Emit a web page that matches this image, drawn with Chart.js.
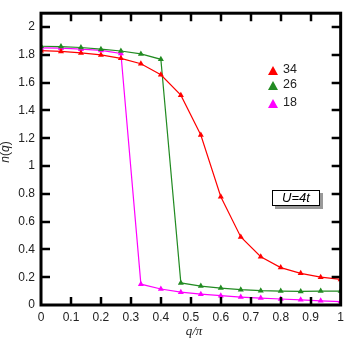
<!DOCTYPE html>
<html>
<head>
<meta charset="utf-8">
<script src="https://cdn.jsdelivr.net/npm/chart.js@4.4.1/dist/chart.umd.min.js"></script>
<style>
  html, body { margin: 0; padding: 0; background: #fff; }
  #wrap { width: 349px; height: 341px; }
</style>
</head>
<body>
<div id="wrap"><canvas id="chart"></canvas></div>
<script>
// q/pi grid: k/15, k = 0..15
const qValues = [0, 1/15, 2/15, 3/15, 4/15, 5/15, 6/15, 7/15, 8/15, 9/15, 10/15, 11/15, 12/15, 13/15, 14/15, 1];

const seriesLabels = ['34', '26', '18'];
const seriesColors = ['#ff0000', '#228b22', '#ff00ff'];

const n34 = [1.83, 1.825, 1.814, 1.80, 1.775, 1.736, 1.657, 1.51, 1.223, 0.779, 0.49, 0.347, 0.269, 0.228, 0.20, 0.184];
const n26 = [1.862, 1.86, 1.853, 1.841, 1.828, 1.807, 1.768, 0.159, 0.136, 0.122, 0.11, 0.103, 0.10, 0.098, 0.10, 0.10];
const n18 = [1.85, 1.848, 1.841, 1.832, 1.81, 0.15, 0.115, 0.092, 0.078, 0.067, 0.057, 0.05, 0.043, 0.037, 0.03, 0.025];

const xTicks = [0, 0.1, 0.2, 0.3, 0.4, 0.5, 0.6, 0.7, 0.8, 0.9, 1];
const yTicks = [0, 0.2, 0.4, 0.6, 0.8, 1, 1.2, 1.4, 1.6, 1.8, 2];

const FONT = 'Liberation Sans, Arial, sans-serif';

function toPoints(ys) {
  return ys.map((y, i) => ({ x: qValues[i], y }));
}

// frame, inward ticks, legend, axis titles, U=4t box
const decorations = {
  id: 'decorations',
  afterDraw(chart) {
    const { ctx, chartArea: a, scales: { x, y } } = chart;
    ctx.save();

    // inward ticks
    ctx.strokeStyle = '#000';
    ctx.lineWidth = 2.5;
    ctx.beginPath();
    xTicks.slice(1, -1).forEach(v => {
      const px = Math.round(x.getPixelForValue(v));
      ctx.moveTo(px, a.bottom); ctx.lineTo(px, a.bottom - 8);
      ctx.moveTo(px, a.top); ctx.lineTo(px, a.top + 8);
    });
    yTicks.slice(1).forEach(v => {
      const py = Math.round(y.getPixelForValue(v));
      ctx.moveTo(a.left, py); ctx.lineTo(a.left + 9, py);
      ctx.moveTo(a.right, py); ctx.lineTo(a.right - 9, py);
    });
    ctx.stroke();

    // frame
    ctx.lineWidth = 3;
    ctx.strokeRect(a.left, a.top, a.right - a.left, a.bottom - a.top);

    // legend
    const legendY = [70, 85, 103];
    chart.data.datasets.forEach((ds, i) => {
      const cx = 273, cy = legendY[i] + 1;
      ctx.fillStyle = ds.borderColor;
      ctx.beginPath();
      ctx.moveTo(cx, cy - 5);
      ctx.lineTo(cx + 5, cy + 4);
      ctx.lineTo(cx - 5, cy + 4);
      ctx.closePath();
      ctx.fill();
      ctx.fillStyle = '#222';
      ctx.font = '12.5px ' + FONT;
      ctx.textBaseline = 'middle';
      ctx.textAlign = 'left';
      ctx.fillText(ds.label, 283, legendY[i]);
    });

    // U=4t box
    ctx.fillStyle = '#999';
    ctx.fillRect(275, 193, 48, 16);
    ctx.fillStyle = '#fff';
    ctx.fillRect(272, 190, 48, 16);
    ctx.strokeStyle = '#000';
    ctx.lineWidth = 1;
    ctx.strokeRect(272.5, 190.5, 47, 15);
    ctx.fillStyle = '#000';
    ctx.textBaseline = 'middle';
    ctx.textAlign = 'left';
    const parts = [['italic', 'U'], ['italic', '=4'], ['italic', 't']];
    let w = 0;
    parts.forEach(([style, s]) => { ctx.font = style + ' 13px ' + FONT; w += ctx.measureText(s).width; });
    let tx = 296 - w / 2;
    parts.forEach(([style, s]) => {
      ctx.font = style + ' 13px ' + FONT;
      ctx.fillText(s, tx, 198.5);
      tx += ctx.measureText(s).width;
    });

    // x title: q/π
    ctx.fillStyle = '#222';
    ctx.font = 'italic 13px Liberation Serif, serif';
    ctx.textAlign = 'center';
    ctx.fillText('q/π', 194, 332);

    // y title: n(q)
    ctx.translate(6, 152);
    ctx.rotate(-Math.PI / 2);
    const yparts = [['italic', 'n'], ['normal', '('], ['italic', 'q'], ['normal', ')']];
    let total = 0;
    yparts.forEach(([style, s]) => { ctx.font = style + ' 12px ' + FONT; total += ctx.measureText(s).width; });
    let yx = -total / 2;
    ctx.textAlign = 'left';
    yparts.forEach(([style, s]) => {
      ctx.font = style + ' 12px ' + FONT;
      ctx.fillText(s, yx, 0);
      yx += ctx.measureText(s).width;
    });
    ctx.restore();
  }
};

const datasets = [n34, n26, n18].map((ys, i) => ({
  label: seriesLabels[i],
  data: toPoints(ys),
  borderColor: seriesColors[i],
  backgroundColor: seriesColors[i],
  borderWidth: 1.2,
  pointStyle: 'triangle',
  pointRadius: 3.5,
  pointBorderWidth: 0,
  tension: 0,
}));

new Chart(document.getElementById('chart'), {
  type: 'line',
  data: { datasets },
  options: {
    responsive: true,
    maintainAspectRatio: false,
    animation: false,
    layout: { padding: { top: 1, right: 6, left: 0, bottom: 0 } },
    plugins: { legend: { display: false }, tooltip: { enabled: false } },
    scales: {
      x: {
        type: 'linear',
        min: 0,
        max: 1,
        grid: { display: false, drawTicks: false },
        border: { display: false },
        afterBuildTicks: (s) => { s.ticks = xTicks.map(v => ({ value: v })); },
        afterFit: (s) => { s.height = 36; },
        ticks: {
          padding: 5,
          color: '#222',
          font: { family: FONT, size: 12 },
          callback: (v) => String(v),
        },
      },
      y: {
        min: 0,
        max: 2.1,
        grid: { display: false, drawTicks: false },
        border: { display: false },
        afterBuildTicks: (s) => { s.ticks = yTicks.map(v => ({ value: v })); },
        afterFit: (s) => { s.width = 41; },
        ticks: {
          padding: 6,
          color: '#222',
          font: { family: FONT, size: 12 },
          callback: (v) => String(v),
        },
      },
    },
  },
  plugins: [decorations],
});
</script>
</body>
</html>
